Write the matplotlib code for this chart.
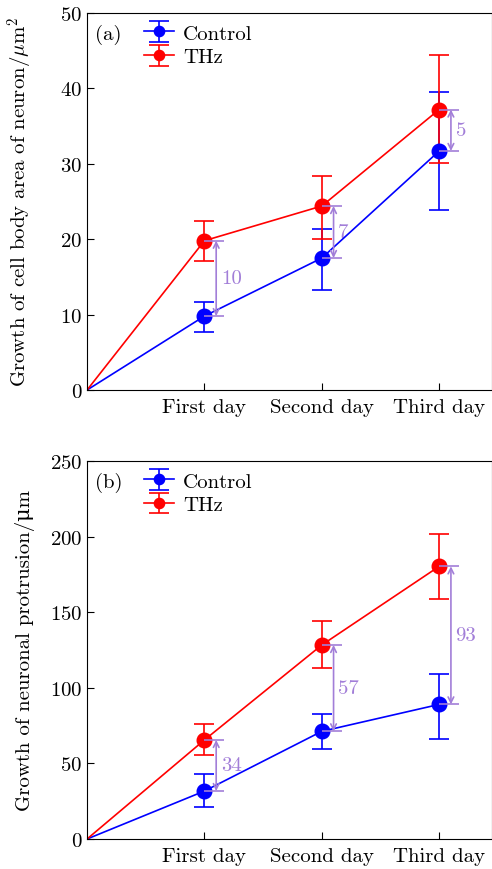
import matplotlib.pyplot as plt
import numpy as np

plt.rcParams['font.family'] = ['cmr10', 'DejaVu Serif']
plt.rcParams['axes.formatter.use_mathtext'] = True
plt.rcParams['mathtext.fontset'] = 'cm'

days = ['First day', 'Second day', 'Third day']

# panel (a): cell body area
area_ctrl = [9.8, 17.5, 31.7]
area_ctrl_lo = [7.7, 13.2, 23.9]
area_ctrl_hi = [11.7, 21.3, 39.5]
area_thz = [19.8, 24.4, 37.2]
area_thz_lo = [17.1, 20.0, 30.1]
area_thz_hi = [22.4, 28.4, 44.4]
area_diff = ['10', '7', '5']

# panel (b): neuronal protrusion
prot_ctrl = [31.7, 71.2, 89.0]
prot_ctrl_lo = [21.0, 59.5, 66.0]
prot_ctrl_hi = [43.0, 82.5, 109.0]
prot_thz = [65.5, 128.3, 180.3]
prot_thz_lo = [55.5, 113.0, 158.5]
prot_thz_hi = [76.0, 144.0, 201.5]
prot_diff = ['34', '57', '93']

purple = '#a27ed8'
fs = 15


def panel(ax, ctrl, clo, chi, thz, tlo, thi, diffs, ymax, ystep, ylabel, tag):
    x = np.arange(1, 4)
    # segment from the origin to the first day
    ax.plot([0, 1], [0, ctrl[0]], color='blue', lw=1.2)
    ax.plot([0, 1], [0, thz[0]], color='red', lw=1.2)
    ax.errorbar(x, ctrl, yerr=[np.subtract(ctrl, clo), np.subtract(chi, ctrl)],
                fmt='-o', color='blue', ms=10.5, lw=1.2, capsize=7, elinewidth=1.2,
                capthick=1.2, label='Control', zorder=3)
    ax.errorbar(x, thz, yerr=[np.subtract(thz, tlo), np.subtract(thi, thz)],
                fmt='-o', color='red', ms=10.5, lw=1.2, capsize=7, elinewidth=1.2,
                capthick=1.2, label='THz', zorder=3)
    for xi, c, t, d in zip(x, ctrl, thz, diffs):
        ax.hlines([c, t], xi, xi + 0.17, color=purple, lw=1.2, zorder=4)
        ax.annotate('', xy=(xi + 0.1, c), xytext=(xi + 0.1, t),
                    arrowprops=dict(arrowstyle='<->', color=purple, lw=1.2,
                                    shrinkA=0, shrinkB=0), zorder=4)
        ax.text(xi + 0.14, (c + t) / 2, d, color=purple, fontsize=fs,
                va='center', ha='left')
    ax.set_xlim(0, 3.45)
    ax.set_ylim(0, ymax)
    ax.set_xticks(x)
    ax.set_xticklabels(days, fontsize=fs)
    ax.set_yticks(np.arange(0, ymax + 1, ystep))
    ax.tick_params(direction='in', labelsize=fs, length=5)
    ax.tick_params(axis='x', pad=6)
    ax.set_ylabel(ylabel, fontsize=fs)
    ax.yaxis.set_label_coords(-0.128, 0.5)
    ax.text(0.02, 0.945, tag, transform=ax.transAxes, fontsize=fs, va='center')
    ax.legend(loc='upper left', bbox_to_anchor=(0.1, 1.015), frameon=False,
              fontsize=fs, handlelength=1.45, handletextpad=0.4, markerscale=0.7,
              borderpad=0.3, labelspacing=0.25)


fig = plt.figure(figsize=(4.92, 8.70), dpi=100)
ax1 = fig.add_axes([0.177, 0.5506, 0.823, 0.4333])
ax2 = fig.add_axes([0.177, 0.0345, 0.823, 0.4345])

panel(ax1, area_ctrl, area_ctrl_lo, area_ctrl_hi, area_thz, area_thz_lo, area_thz_hi,
      area_diff, 50, 10, r'Growth of cell body area of neuron/$\mu$m$^2$', '(a)')
panel(ax2, prot_ctrl, prot_ctrl_lo, prot_ctrl_hi, prot_thz, prot_thz_lo, prot_thz_hi,
      prot_diff, 250, 50, 'Growth of neuronal protrusion/μm', '(b)')

fig.savefig('out.png', dpi=100)
